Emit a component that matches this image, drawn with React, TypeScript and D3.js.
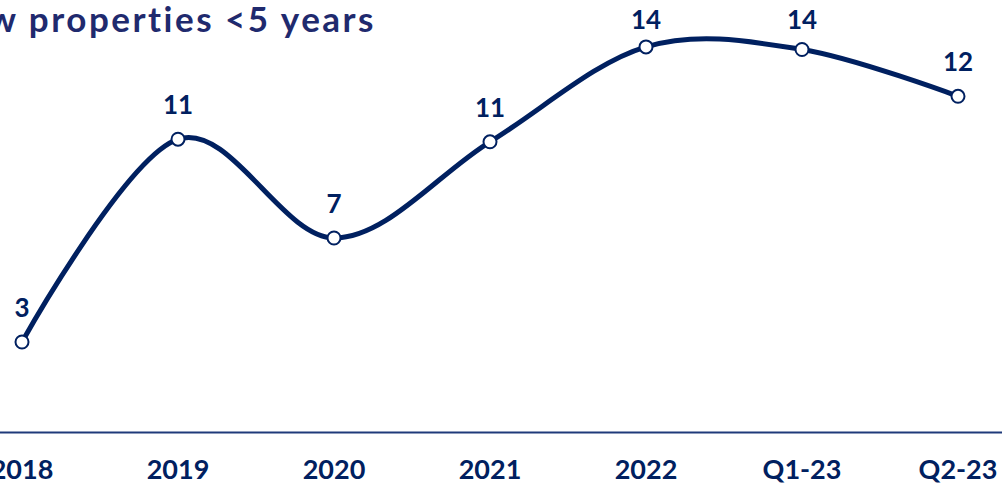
import React from "react";
import * as d3 from "d3";

const categories = ["2018", "2019", "2020", "2021", "2022", "Q1-23", "Q2-23"];
const values = [3.0, 10.8, 7.0, 10.7, 14.35, 14.25, 12.45];
const title = "New properties <5 years";

const W = 1002;
const H = 485;
const NAVY = "#002060";
const FONT = "Lato, 'Open Sans', sans-serif";

export default function App() {
  const x = d3.scalePoint<string>().domain(categories).range([22, 958]);
  const y = d3.scaleLinear().domain([0, 16]).range([420, 4]);
  const pts = categories.map((c, i) => [x(c) as number, y(values[i])] as [number, number]);
  const line = d3.line().curve(d3.curveCardinal.tension(0))(pts) || "";

  return (
    <svg
      width={W}
      height={H}
      style={{ position: "absolute", left: 0, top: 0, background: "#fff" }}
      fontFamily={FONT}
    >
      <text
        x={376}
        y={32}
        textAnchor="end"
        fontSize={35}
        fontWeight={700}
        letterSpacing={2.5}
        fill="#1f2a6e"
      >
        {title}
      </text>
      <line x1={0} x2={W} y1={432.5} y2={432.5} stroke="#1f3a7a" strokeWidth={2} />
      {categories.map((c) => (
        <text key={c} x={x(c)} y={479} textAnchor="middle" fontSize={27} fontWeight={700} fill={NAVY}>
          {c}
        </text>
      ))}
      <path d={line} fill="none" stroke={NAVY} strokeWidth={5} strokeLinecap="round" />
      {pts.map(([px, py], i) => (
        <g key={i}>
          <circle cx={px} cy={py} r={6.5} fill="#fff" stroke={NAVY} strokeWidth={2} />
          <text
            x={px}
            y={Math.max(py - 25, 29)}
            textAnchor="middle"
            fontSize={26}
            fontWeight={700}
            fill={NAVY}
          >
            {d3.format(".0f")(values[i])}
          </text>
        </g>
      ))}
    </svg>
  );
}
